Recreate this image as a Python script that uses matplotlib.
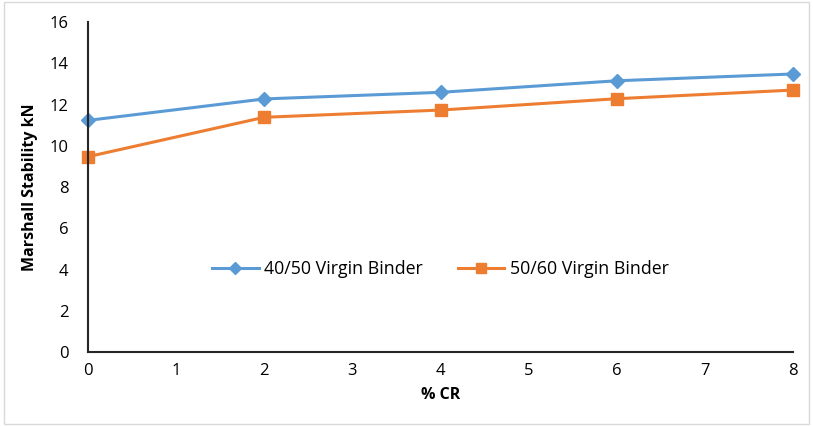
import matplotlib
matplotlib.use("Agg")
import matplotlib.pyplot as plt
from matplotlib.patches import Rectangle

cr = [0, 2, 4, 6, 8]
binder_4050 = [11.23, 12.27, 12.59, 13.15, 13.48]
binder_5060 = [9.47, 11.38, 11.73, 12.28, 12.70]
labels = ["40/50 Virgin Binder", "50/60 Virgin Binder"]

plt.rcParams['font.family'] = ['Open Sans', 'DejaVu Sans']

fig = plt.figure(figsize=(8.13, 4.26), dpi=100)
fig.patches.append(Rectangle((0.005, 0.005), 0.99, 0.99, transform=fig.transFigure,
                             fill=False, edgecolor='#d9d9d9', linewidth=1))
ax = fig.add_axes([88/813, 1-352/426, (793-88)/813, (352-22)/426])

ax.plot(cr, binder_4050, color='#5b9bd5', lw=2.2, marker='D', ms=7, label=labels[0], clip_on=False)
ax.plot(cr, binder_5060, color='#ed7d31', lw=2.2, marker='s', ms=9, label=labels[1], clip_on=False)

ax.set_xlim(0, 8)
ax.set_ylim(0, 16)
ax.set_xticks(range(0, 9))
ax.set_yticks(range(0, 17, 2))
ax.tick_params(length=0, labelsize=12, colors='#000000', pad=8)
ax.tick_params(axis='y', pad=14)
for s in ['top', 'right']:
    ax.spines[s].set_visible(False)
for s in ['left', 'bottom']:
    ax.spines[s].set_color('#262626')
    ax.spines[s].set_linewidth(1.5)

ax.set_xlabel('% CR', fontsize=11.5, fontweight='bold', labelpad=6)
ax.set_ylabel('Marshall Stability kN', fontsize=11.5, fontweight='bold', labelpad=8)

ax.legend(loc='center', bbox_to_anchor=(0.5, 0.25), ncol=2, frameon=False,
          fontsize=12.8, handlelength=2.6, columnspacing=2.0, handletextpad=0.3,
          markerscale=0.85)

fig.savefig('out.png', dpi=100)
